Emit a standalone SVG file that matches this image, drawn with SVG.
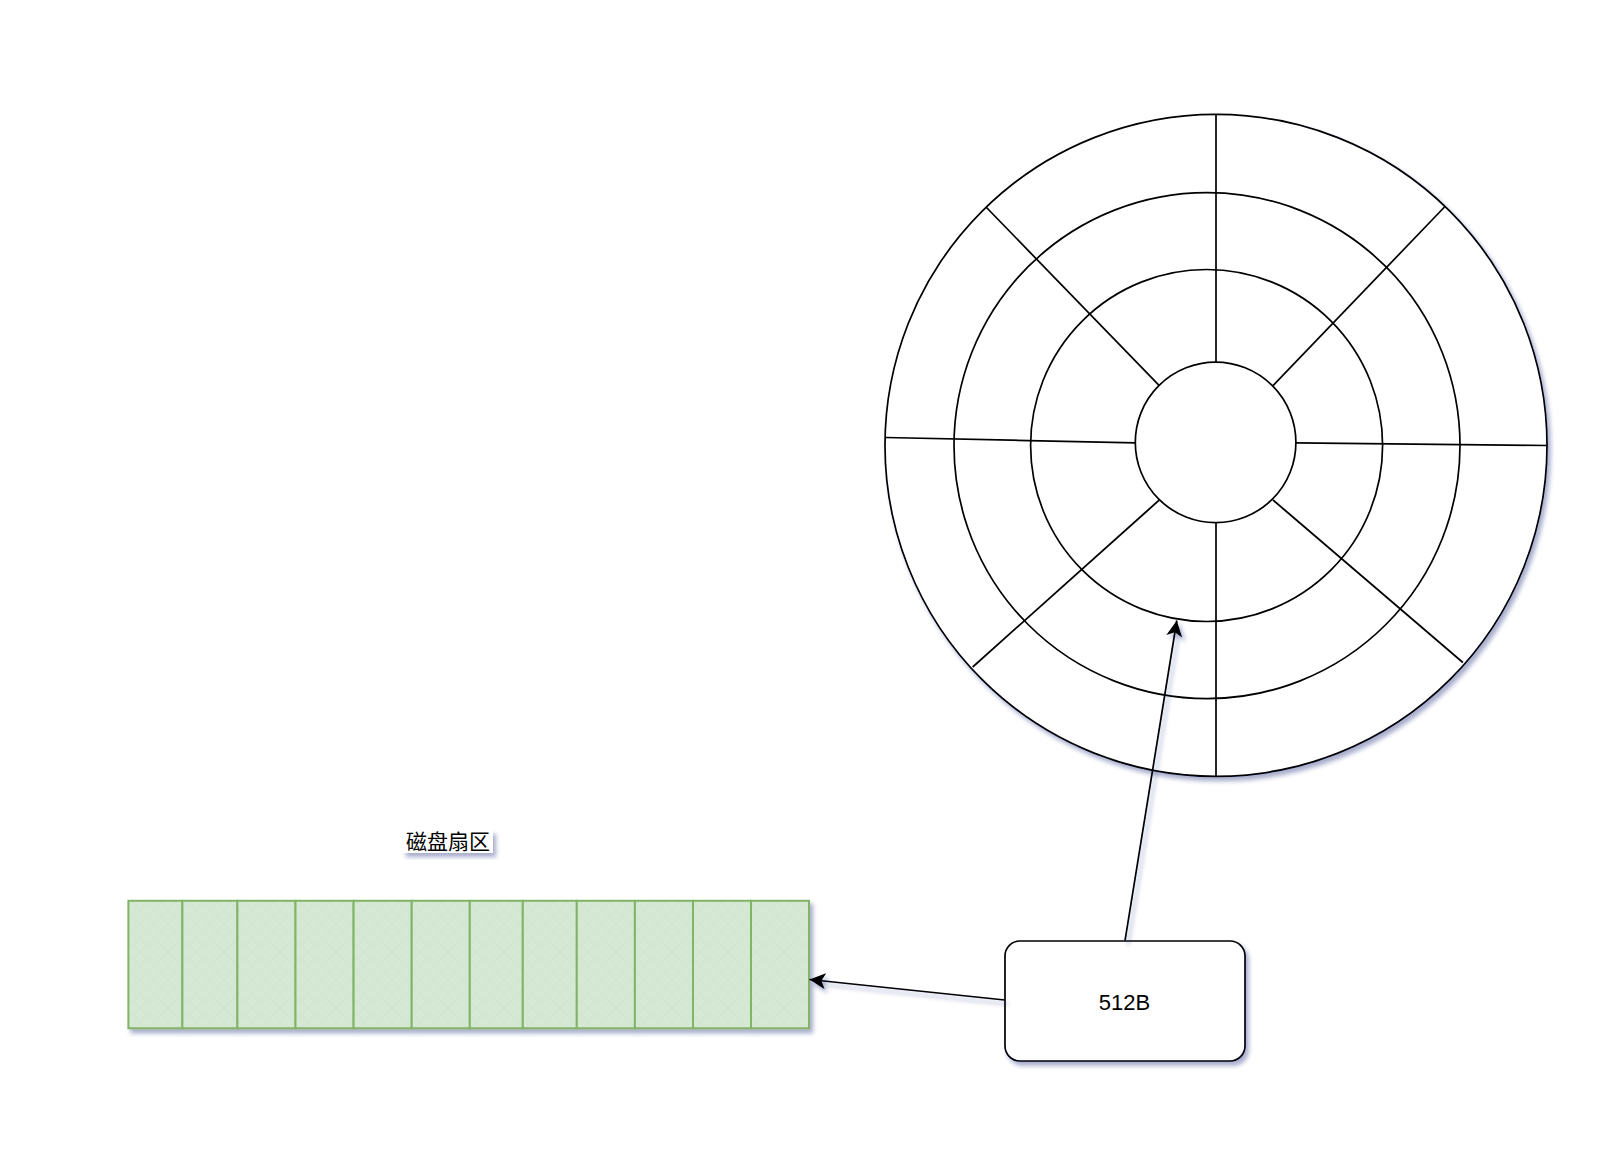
<svg xmlns="http://www.w3.org/2000/svg" width="1598" height="1156" viewBox="0 0 1598 1156">
  <defs>
    <filter id="sh" x="-10%" y="-10%" width="130%" height="140%">
      <feDropShadow dx="3" dy="4" stdDeviation="2.2" flood-color="#1f2a78" flood-opacity="0.38"/>
    </filter>
    <pattern id="hatch" width="14" height="14" patternUnits="userSpaceOnUse">
      <rect width="14" height="14" fill="#d5e8d4"/>
      <path d="M0,0 L14,14 M14,0 L0,14" stroke="#cfe2ce" stroke-width="0.7"/>
    </pattern>
    <marker id="arr" markerUnits="userSpaceOnUse" markerWidth="18" markerHeight="18" refX="16" refY="8" orient="auto" viewBox="0 0 18 18">
      <path d="M16,8 L0,0 L4,8 L0,16 Z" fill="#000"/>
    </marker>
    <style>
      .disk { fill: none; stroke: #000; stroke-width: 1.7; }
      .cell { fill: url(#hatch); stroke: #82b366; stroke-width: 2; }
      .conn { fill: none; stroke: #000; stroke-width: 1.7; marker-end: url(#arr); }
      .lbl { font-family: "Liberation Sans", Arial, "Noto Sans CJK SC", sans-serif; fill: #000; }
    </style>
  </defs>
  <rect width="1598" height="1156" fill="#ffffff"/>

  <g id="disk" filter="url(#sh)">
    <circle cx="1216" cy="445.4" r="331" fill="#ffffff" stroke="#000" stroke-width="1.7"/>
    <circle class="disk" cx="1207" cy="445.6" r="253"/>
    <circle class="disk" cx="1206.6" cy="445.5" r="176"/>
    <circle class="disk" cx="1215.6" cy="442.4" r="80.3"/>
    <line class="disk" x1="1216" y1="114.5" x2="1216" y2="362"/>
    <line class="disk" x1="1216" y1="522.7" x2="1216" y2="776.4"/>
    <line class="disk" x1="986" y1="207" x2="1159.3" y2="385.7"/>
    <line class="disk" x1="1444.5" y1="207" x2="1273" y2="385.7"/>
    <line class="disk" x1="885.3" y1="437.5" x2="1135.5" y2="442.9"/>
    <line class="disk" x1="1296" y1="442.9" x2="1547.2" y2="445.5"/>
    <line class="disk" x1="1159.3" y1="500" x2="972.7" y2="667"/>
    <line class="disk" x1="1273" y1="500" x2="1462.9" y2="662.5"/>
  </g>

  <g id="sectors" filter="url(#sh)">
    <rect class="cell" x="128.4" y="900.8" width="54" height="127.5"/>
    <rect class="cell" x="182.4" y="900.8" width="55" height="127.5"/>
    <rect class="cell" x="237.4" y="900.8" width="58.1" height="127.5"/>
    <rect class="cell" x="295.5" y="900.8" width="58.1" height="127.5"/>
    <rect class="cell" x="353.6" y="900.8" width="58.1" height="127.5"/>
    <rect class="cell" x="411.7" y="900.8" width="58.1" height="127.5"/>
    <rect class="cell" x="469.8" y="900.8" width="53" height="127.5"/>
    <rect class="cell" x="522.8" y="900.8" width="54" height="127.5"/>
    <rect class="cell" x="576.8" y="900.8" width="58.1" height="127.5"/>
    <rect class="cell" x="634.9" y="900.8" width="58.1" height="127.5"/>
    <rect class="cell" x="693" y="900.8" width="58" height="127.5"/>
    <rect class="cell" x="751" y="900.8" width="58" height="127.5"/>
  </g>

  <g id="sector-label">
    <rect x="403" y="830" width="90" height="23" fill="#ffffff" filter="url(#sh)"/>
    <text class="lbl" x="448" y="849" font-size="21" text-anchor="middle">磁盘扇区</text>
  </g>

  <g id="box512">
    <rect x="1005" y="941" width="240" height="120" rx="15" ry="15" fill="#ffffff" stroke="#000" stroke-width="1.7" filter="url(#sh)"/>
    <text class="lbl" x="1124.5" y="1009.5" font-size="22" text-anchor="middle">512B</text>
  </g>

  <g id="connectors" filter="url(#sh)">
    <line class="conn" x1="1125" y1="940.7" x2="1176.8" y2="620.5"/>
    <line class="conn" x1="1004.7" y1="1000" x2="809.5" y2="979.5"/>
  </g>
</svg>
